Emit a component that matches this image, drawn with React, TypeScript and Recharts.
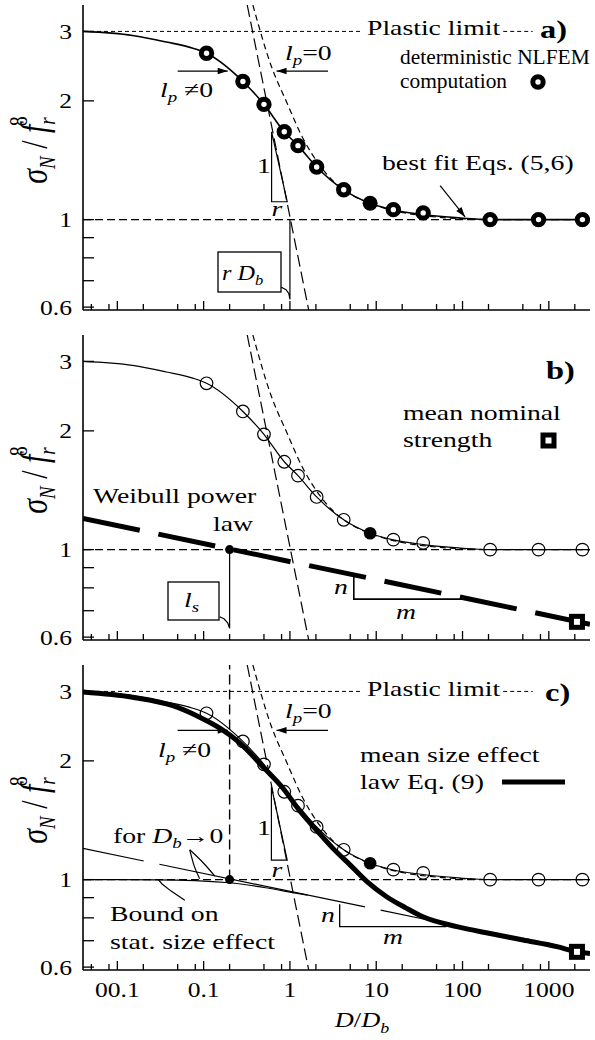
import React from "react";
import {
  ComposedChart,
  Line,
  Scatter,
  XAxis,
  YAxis,
  ReferenceLine,
  ReferenceDot,
} from "recharts";

const FONT = "'Liberation Serif', 'Times New Roman', serif";
const INK = "#000";
// the printed figure is stretched sideways, so its lettering is wider than tall
const STRETCH = 1.26;

// ---- values: D/Db and sigma_N / f_r ----
const NODE_D = [0.108, 0.285, 0.5, 0.86, 1.24, 2.04, 4.2, 8.5, 15.8, 35, 209, 760, 2450];
const NODE_S = [2.64, 2.24, 1.96, 1.67, 1.54, 1.36, 1.19, 1.1, 1.06, 1.04, 1.0, 1.0, 1.0];
const FILLED_NODE_D = 8.5;

const FIT_D = [0.004, 0.015, 0.037, 0.075, 0.108, 0.285, 0.5, 0.86, 1.24, 2.04, 4.2, 8.5, 15.8, 35, 90, 209, 3000];
const FIT_S = [3.0, 2.93, 2.82, 2.72, 2.64, 2.24, 1.96, 1.67, 1.54, 1.36, 1.19, 1.1, 1.058, 1.03, 1.01, 1.0, 1.0];

const LP0_D = [0.372, 0.6, 0.92, 1.41, 2.23, 3.33, 5.4, 10, 19, 50, 200];
const LP0_S = [3.5, 2.47, 1.98, 1.61, 1.37, 1.24, 1.15, 1.085, 1.045, 1.015, 1.0];

const STEEP_D = [0.32, 1.65];
const STEEP_S = [3.5, 0.59];

const PLASTIC_S = 3;
const PLASTIC_LEFT_D = [0.004, 6.5];
const PLASTIC_RIGHT_D = [296, 650];
const UNIT_S = 1;

const WEIBULL_D = [0.004, 3000];
const WEIBULL_S = [1.2, 0.647];
const WEIBULL_C_D = [0.004, 40];
const WEIBULL_C_S = [1.2, 0.79];

const BOUND_D = [0.004, 0.03, 0.2, 0.5, 1.0, 1.6];
const BOUND_S = [1.0, 0.999, 0.982, 0.955, 0.93, 0.913];

const MEAN_D = [0.004, 0.015, 0.044, 0.09, 0.154, 0.25, 0.5, 0.84, 1.31, 2.0, 3.15, 4.97, 7.76, 13.2, 22, 34.8, 85.8, 209, 505, 1242, 2118, 3000];
const MEAN_S = [2.99, 2.9, 2.76, 2.58, 2.42, 2.24, 1.92, 1.7, 1.49, 1.34, 1.2, 1.09, 0.99, 0.905, 0.848, 0.805, 0.76, 0.73, 0.703, 0.676, 0.656, 0.65];

const LS_D = 0.2;
const SQUARE_D = 2118;
const SQUARE_S = 0.656;

// annotation geometry, in data units
const TRI_A_D = [0.613, 0.613, 0.93, 0.613];
const TRI_A_S = [1.67, 1.11, 1.11, 1.67];
const TRI_C_D = [0.61, 0.61, 0.93, 0.61];
const TRI_C_S = [1.72, 1.12, 1.12, 1.72];
const NM_B_D = [5.5, 5.5, 106];
const NM_B_S = [0.859, 0.749, 0.749];
const NM_C_D = [3.77, 3.77, 65];
const NM_C_S = [0.866, 0.76, 0.76];
const RDB_LEADER_D = [1, 1, 0.97, 0.9, 0.787];
const RDB_LEADER_S = [1, 0.628, 0.65, 0.664, 0.675];
const LS_LEADER_D = [0.2, 0.2, 0.19, 0.172, 0.153];
const LS_LEADER_S = [1, 0.632, 0.652, 0.668, 0.676];
const FOR_LEADER1_D = [0.069, 0.078, 0.09];
const FOR_LEADER1_S = [1.19, 1.08, 1.005];
const FOR_LEADER2_D = [0.069, 0.1, 0.135];
const FOR_LEADER2_S = [1.19, 1.1, 1.02];
const BOUND_LEADER_D = [0.0605, 0.042, 0.033, 0.03];
const BOUND_LEADER_S = [0.887, 0.935, 0.975, 0.998];
const VDASH_D = [0.2, 0.2];
const VDASH_S = [1, 3.5];
const ARROW_LPNZ_D = [0.05, 0.19];
const ARROW_LP0_D = [2.76, 0.7];
const ARROW_A_S = 2.38;
const ARROW_C_S = 2.39;
const ARROW_FIT_D = [55, 107];
const ARROW_FIT_S = [1.22, 1.016];

// axes
const X_DOMAIN = [0.004, 3000];
const Y_DOMAIN = [0.59, 3.5];
const X_MAJOR = [0.01, 0.1, 1, 10, 100, 1000];
const X_LABELS = ["00.1", "0.1", "1", "10", "100", "1000"];
const X_MINOR = [0.005, 0.008, 0.02, 0.05, 0.08, 0.2, 0.5, 0.8, 2, 5, 8, 20, 50, 80, 200, 500, 800, 2000];
const Y_MAJOR = [0.6, 1, 2, 3];
const Y_LABELS = ["0.6", "1", "2", "3"];
const Y_MINOR = [0.7, 0.8, 0.9];

const X_TICKS = [...X_MAJOR, ...X_MINOR].sort((a, b) => a - b);
const Y_TICKS = [...Y_MAJOR, ...Y_MINOR].sort((a, b) => a - b);

const pts = (xs: number[], ys: number[]) => xs.map((x, i) => ({ x, y: ys[i] }));
const flat = (xs: number[], y: number) => xs.map((x) => ({ x, y }));

// stretched text
function T({ x, y, sx = STRETCH, anchor, size = 22, bold, italic, children }: any) {
  return (
    <g transform={`translate(${x},${y}) scale(${sx},1)`}>
      <text
        x={0}
        y={0}
        textAnchor={anchor}
        fontSize={size}
        fontWeight={bold ? "bold" : undefined}
        fontStyle={italic ? "italic" : undefined}
        fontFamily={FONT}
        fill={INK}
      >
        {children}
      </text>
    </g>
  );
}

function XTick(props: any) {
  const { x, y, payload, showLabels } = props;
  const i = X_MAJOR.indexOf(payload.value);
  const len = i >= 0 ? 9 : 6;
  return (
    <g>
      <line x1={x} x2={x} y1={y} y2={y - len} stroke={INK} strokeWidth={1.3} />
      {showLabels && i >= 0 && (
        <T x={x} y={y + 27} anchor="middle" size={21} sx={1.22}>
          {X_LABELS[i]}
        </T>
      )}
    </g>
  );
}

function YTick(props: any) {
  const { x, y, payload } = props;
  const i = Y_MAJOR.indexOf(payload.value);
  return (
    <g>
      <line x1={x} x2={x + 11} y1={y} y2={y} stroke={INK} strokeWidth={1.3} />
      {i >= 0 && (
        <T x={x - 11} y={y + 7.5} anchor="end" size={21} sx={1.22}>
          {Y_LABELS[i]}
        </T>
      )}
    </g>
  );
}

const ringA = (p: any) =>
  p.payload.x === FILLED_NODE_D ? (
    <circle cx={p.cx} cy={p.cy} r={7.5} fill={INK} />
  ) : (
    <circle cx={p.cx} cy={p.cy} r={5.2} fill="#fff" stroke={INK} strokeWidth={5} />
  );

const ringThin = (p: any) =>
  p.payload.x === FILLED_NODE_D ? (
    <circle cx={p.cx} cy={p.cy} r={6.3} fill={INK} />
  ) : (
    <circle cx={p.cx} cy={p.cy} r={6.3} fill="none" stroke={INK} strokeWidth={1.2} />
  );

const squareShape = (p: any) => (
  <rect x={p.cx - 5.5} y={p.cy - 5.5} width={11} height={11} fill="#fff" stroke={INK} strokeWidth={5} />
);

const arrowHead = (angle: number) => (p: any) => (
  <path d="M0,0 L-10,-3.3 L-10,3.3 Z" transform={`translate(${p.cx},${p.cy}) rotate(${angle})`} fill={INK} />
);

const line = (key: string, data: any[], opts: any = {}) => (
  <Line
    key={key}
    data={data}
    dataKey="y"
    type={opts.type || "linear"}
    stroke={INK}
    strokeWidth={opts.w || 1.2}
    strokeDasharray={opts.dash}
    dot={false}
    activeDot={false}
    isAnimationActive={false}
    legendType="none"
  />
);

function Panel({ height, axisHeight, showLabels, children }: any) {
  return (
    <ComposedChart width={595} height={height} margin={{ top: 5, right: 5, bottom: 0, left: 0 }}>
      <XAxis
        dataKey="x"
        type="number"
        scale="log"
        domain={X_DOMAIN}
        allowDataOverflow
        ticks={X_TICKS}
        interval={0}
        tickLine={false}
        tickSize={0}
        tickMargin={0}
        height={axisHeight}
        axisLine={{ stroke: INK, strokeWidth: 1.6 }}
        tick={<XTick showLabels={showLabels} />}
      />
      <XAxis
        xAxisId="top"
        orientation="top"
        type="number"
        scale="log"
        domain={X_DOMAIN}
        allowDataOverflow
        height={0}
        tick={false}
        tickLine={false}
        axisLine={{ stroke: INK, strokeWidth: 1.6 }}
      />
      <YAxis
        dataKey="y"
        type="number"
        scale="log"
        domain={Y_DOMAIN}
        allowDataOverflow
        ticks={Y_TICKS}
        interval={0}
        tickLine={false}
        tickSize={0}
        tickMargin={0}
        width={83}
        axisLine={{ stroke: INK, strokeWidth: 1.6 }}
        tick={<YTick />}
      />
      <YAxis
        yAxisId="right"
        orientation="right"
        type="number"
        scale="log"
        domain={Y_DOMAIN}
        allowDataOverflow
        width={0}
        tick={false}
        tickLine={false}
        axisLine={{ stroke: INK, strokeWidth: 1.6 }}
      />
      {children}
    </ComposedChart>
  );
}

const unitLine = <ReferenceLine key="unit" y={UNIT_S} stroke={INK} strokeWidth={1.2} strokeDasharray="8 4" />;

function ChartA() {
  return (
    <Panel height={330} axisHeight={20} showLabels={false}>
      {unitLine}
      {line("pl1", flat(PLASTIC_LEFT_D, PLASTIC_S), { dash: "4 3", w: 1 })}
      {line("pl2", flat(PLASTIC_RIGHT_D, PLASTIC_S), { dash: "4 3", w: 1 })}
      {line("steep", pts(STEEP_D, STEEP_S), { dash: "12 5" })}
      {line("lp0", pts(LP0_D, LP0_S), { dash: "6 4", type: "monotone" })}
      {line("fit", pts(FIT_D, FIT_S), { type: "monotone", w: 1.6 })}
      {line("tri", pts(TRI_A_D, TRI_A_S))}
      {line("rdb", pts(RDB_LEADER_D, RDB_LEADER_S))}
      {line("a1", flat(ARROW_LPNZ_D, ARROW_A_S))}
      {line("a2", flat(ARROW_LP0_D, ARROW_A_S))}
      {line("a3", pts(ARROW_FIT_D, ARROW_FIT_S))}
      <ReferenceDot x={ARROW_LPNZ_D[1]} y={ARROW_A_S} r={1} shape={arrowHead(0)} ifOverflow="visible" />
      <ReferenceDot x={ARROW_LP0_D[1]} y={ARROW_A_S} r={1} shape={arrowHead(180)} ifOverflow="visible" />
      <ReferenceDot x={ARROW_FIT_D[1]} y={ARROW_FIT_S[1]} r={1} shape={arrowHead(52)} ifOverflow="visible" />
      <Scatter data={pts(NODE_D, NODE_S)} shape={ringA} isAnimationActive={false} />
    </Panel>
  );
}

function ChartB() {
  return (
    <Panel height={330} axisHeight={20} showLabels={false}>
      {unitLine}
      {line("steep", pts(STEEP_D, STEEP_S), { dash: "12 5" })}
      {line("lp0", pts(LP0_D, LP0_S), { dash: "6 4", type: "monotone" })}
      {line("fit", pts(FIT_D, FIT_S), { type: "monotone", w: 1.2 })}
      {line("weibull", pts(WEIBULL_D, WEIBULL_S), { dash: "58 19", w: 5 })}
      {line("nm", pts(NM_B_D, NM_B_S), { w: 1.6 })}
      {line("ls", pts(LS_LEADER_D, LS_LEADER_S))}
      <ReferenceDot x={LS_D} y={UNIT_S} r={4.5} fill={INK} stroke="none" ifOverflow="visible" />
      <ReferenceDot x={SQUARE_D} y={SQUARE_S} r={1} shape={squareShape} ifOverflow="visible" />
      <Scatter data={pts(NODE_D, NODE_S)} shape={ringThin} isAnimationActive={false} />
    </Panel>
  );
}

function ChartC() {
  return (
    <Panel height={380} axisHeight={70} showLabels={true}>
      {unitLine}
      {line("pl1", flat(PLASTIC_LEFT_D, PLASTIC_S), { dash: "4 3", w: 1 })}
      {line("pl2", flat(PLASTIC_RIGHT_D, PLASTIC_S), { dash: "4 3", w: 1 })}
      {line("vdash", pts(VDASH_D, VDASH_S), { dash: "10 5", w: 1.4 })}
      {line("steep", pts(STEEP_D, STEEP_S), { dash: "12 5" })}
      {line("lp0", pts(LP0_D, LP0_S), { dash: "6 4", type: "monotone" })}
      {line("fit", pts(FIT_D, FIT_S), { type: "monotone", w: 1.1 })}
      {line("tri", pts(TRI_C_D, TRI_C_S))}
      {line("weibullC", pts(WEIBULL_C_D, WEIBULL_C_S), { dash: "62 16 210 16 1000", w: 1.2 })}
      {line("bound", pts(BOUND_D, BOUND_S), { type: "monotone", w: 1.2 })}
      {line("mean", pts(MEAN_D, MEAN_S), { type: "monotone", w: 5 })}
      {line("nm", pts(NM_C_D, NM_C_S), { w: 1.3 })}
      {line("f1", pts(FOR_LEADER1_D, FOR_LEADER1_S), { type: "monotone" })}
      {line("f2", pts(FOR_LEADER2_D, FOR_LEADER2_S), { type: "monotone" })}
      {line("bl", pts(BOUND_LEADER_D, BOUND_LEADER_S))}
      {line("a1", flat(ARROW_LPNZ_D, ARROW_C_S))}
      {line("a2", flat(ARROW_LP0_D, ARROW_C_S))}
      <ReferenceDot x={ARROW_LPNZ_D[1]} y={ARROW_C_S} r={1} shape={arrowHead(0)} ifOverflow="visible" />
      <ReferenceDot x={ARROW_LP0_D[1]} y={ARROW_C_S} r={1} shape={arrowHead(180)} ifOverflow="visible" />
      <ReferenceDot x={LS_D} y={UNIT_S} r={4.5} fill={INK} stroke="none" ifOverflow="visible" />
      <ReferenceDot x={SQUARE_D} y={SQUARE_S} r={1} shape={squareShape} ifOverflow="visible" />
      <Scatter data={pts(NODE_D, NODE_S)} shape={ringThin} isAnimationActive={false} />
    </Panel>
  );
}

function YTitle({ cy }: { cy: number }) {
  return (
    <g transform={`translate(47,${cy}) scale(${STRETCH},1) rotate(-90)`}>
      <text x={0} y={0} textAnchor="middle" fontSize={30} fontFamily={FONT} fill={INK}>
        <tspan fontStyle="italic">σ</tspan>
        <tspan fontSize={19} dy={6} fontStyle="italic">N</tspan>
        <tspan dy={-6}> / </tspan>
        <tspan fontStyle="italic">f</tspan>
        <tspan fontSize={19} dy={6} fontStyle="italic">r</tspan>
        <tspan fontSize={20} dx={-9} dy={-22}>8</tspan>
      </text>
    </g>
  );
}

function LP({ x, y, eq }: { x: number; y: number; eq: string }) {
  return (
    <T x={x} y={y}>
      <tspan fontStyle="italic">l</tspan>
      <tspan fontSize={15} dy={5} fontStyle="italic">p</tspan>
      <tspan dy={-5}>{eq}</tspan>
    </T>
  );
}

function Overlay() {
  return (
    <svg width={595} height={1040} style={{ position: "absolute", left: 0, top: 0, pointerEvents: "none" }}>
      {/* panel a */}
      <YTitle cy={150} />
      <T x={367} y={35}>Plastic limit</T>
      <T x={540} y={38} bold size={25} sx={1.3}>a)</T>
      <LP x={285} y={60} eq="=0" />
      <LP x={160} y={97} eq=" ≠0" />
      <T x={400} y={64} size={21} sx={1.02}>deterministic NLFEM</T>
      <T x={400} y={88} size={21} sx={1.02}>computation</T>
      <circle cx={538} cy={82} r={5.2} fill="#fff" stroke={INK} strokeWidth={5} />
      <T x={382} y={170}>best fit Eqs. (5,6)</T>
      <T x={264} y={173} anchor="middle">1</T>
      <T x={277} y={216} anchor="middle" italic>r</T>
      <rect x={218} y={252} width={63} height={40} fill="#fff" stroke={INK} strokeWidth={1.3} />
      <T x={222} y={280} sx={1.1}>
        <tspan fontStyle="italic">r D</tspan>
        <tspan fontSize={15} dy={5} fontStyle="italic">b</tspan>
      </T>

      {/* panel b */}
      <YTitle cy={480} />
      <T x={546} y={379} bold size={25} sx={1.3}>b)</T>
      <T x={403} y={420}>mean nominal</T>
      <T x={403} y={447}>strength</T>
      <rect x={543} y={435} width={11} height={11} fill="#fff" stroke={INK} strokeWidth={5} />
      <T x={93} y={503}>Weibull power</T>
      <T x={253} y={531} anchor="end">law</T>
      <rect x={168} y={582} width={51} height={38} fill="#fff" stroke={INK} strokeWidth={1.3} />
      <T x={184} y={607}>
        <tspan fontStyle="italic">l</tspan>
        <tspan fontSize={15} dy={5} fontStyle="italic">s</tspan>
      </T>
      <T x={341} y={594} anchor="middle" italic>n</T>
      <T x={406} y={619} anchor="middle" italic>m</T>

      {/* panel c */}
      <YTitle cy={810} />
      <T x={367} y={696}>Plastic limit</T>
      <T x={545} y={701} bold size={25} sx={1.3}>c)</T>
      <LP x={285} y={718} eq="=0" />
      <LP x={158} y={757} eq=" ≠0" />
      <T x={360} y={762}>mean size effect</T>
      <T x={360} y={789}>law Eq. (9)</T>
      <line x1={502} x2={565} y1={782} y2={782} stroke={INK} strokeWidth={5} />
      <T x={113} y={843}>
        <tspan>for </tspan>
        <tspan fontStyle="italic">D</tspan>
        <tspan fontSize={15} dy={5} fontStyle="italic">b</tspan>
        <tspan dy={-5}>→0</tspan>
      </T>
      <T x={110} y={921}>Bound on</T>
      <T x={110} y={949}>stat. size effect</T>
      <T x={264} y={835} anchor="middle">1</T>
      <T x={277} y={877} anchor="middle" italic>r</T>
      <T x={328} y={922} anchor="middle" italic>n</T>
      <T x={393} y={944} anchor="middle" italic>m</T>
      <T x={362} y={1027} anchor="middle" size={22} sx={1.2}>
        <tspan fontStyle="italic">D</tspan>
        <tspan>/</tspan>
        <tspan fontStyle="italic">D</tspan>
        <tspan fontSize={15} dy={6} fontStyle="italic">b</tspan>
      </T>
    </svg>
  );
}

export default function App() {
  return (
    <div style={{ position: "absolute", left: 0, top: 0, width: 595, height: 1040, background: "#fff" }}>
      <div style={{ position: "absolute", left: 0, top: 0 }}>
        <ChartA />
      </div>
      <div style={{ position: "absolute", left: 0, top: 330 }}>
        <ChartB />
      </div>
      <div style={{ position: "absolute", left: 0, top: 660 }}>
        <ChartC />
      </div>
      <Overlay />
    </div>
  );
}
